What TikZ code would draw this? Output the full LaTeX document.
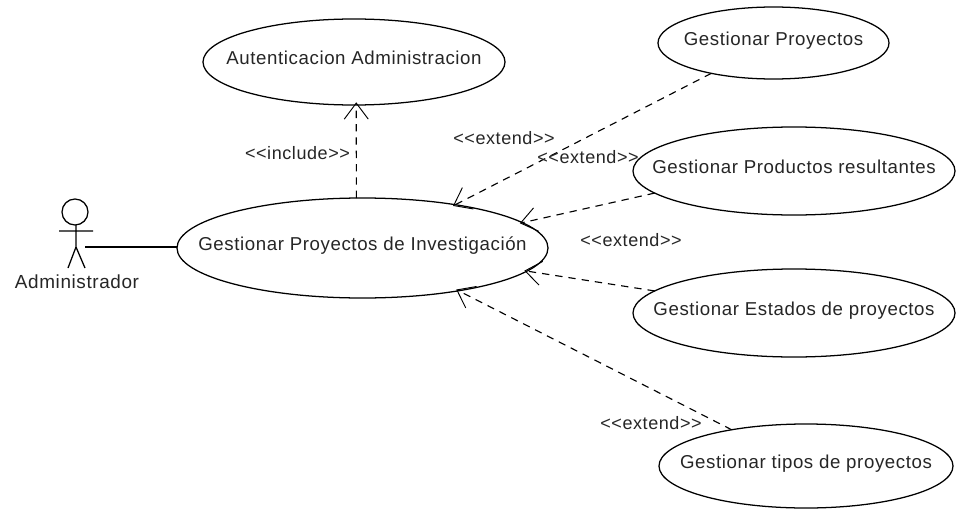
\documentclass[tikz,border=0pt]{standalone}
\usepackage{fontspec}
\newfontfamily\ucfont{Liberation Sans}[LetterSpace=3.2]
\usetikzlibrary{shapes.geometric,arrows.meta}
\newcommand{\uctext}[1]{\raisebox{-2pt}[0pt][0pt]{#1}}
\tikzset{
  uc/.style n args={2}{draw,ellipse,line width=.95pt,outer sep=0pt,inner xsep=-40pt,inner ysep=0pt,minimum width=#1*0.75pt,minimum height=#2*0.75pt,text=black!85,font=\ucfont\fontsize{14pt}{16pt}\selectfont},
  lbl/.style={font=\ucfont\fontsize{13.5pt}{15pt}\selectfont,inner sep=0pt,text=black!85},
  dep/.style={dash pattern=on 5.5pt off 4.5pt,line width=.85pt,shorten >=-2pt,-{Straight Barb[length=12pt,width=18pt,line width=.7pt]}},
  actor/.style={line width=.95pt},
}
\begin{document}
\begin{tikzpicture}[x=0.75pt,y=-0.75pt]
\useasboundingbox (0,0) rectangle (956,510);
\path[fill=white] (0,0) rectangle (956,510);
\node[uc={302}{86}] (auth) at (354,62) {\uctext{Autenticacion Administracion}};
\node[uc={371}{100}] (main) at (362.5,248) {\uctext{Gestionar Proyectos de Investigación}};
\node[uc={231}{72}] (gp) at (773.5,43) {\uctext{Gestionar Proyectos}};
\node[uc={322}{88}] (gpr) at (794,171) {\uctext{Gestionar Productos resultantes}};
\node[uc={322}{88}] (ge) at (794,313) {\uctext{Gestionar Estados de proyectos}};
\node[uc={294}{84}] (gt) at (806,466) {\uctext{Gestionar tipos de proyectos}};
\coordinate (head) at (75,212);
\draw[actor] (head) circle (13);
\coordinate (neck) at (76,225);
\coordinate (hip) at (76,247);
\coordinate (lf) at (68,268);
\coordinate (rf) at (85,268);
\coordinate (al) at (59,231);
\coordinate (ar) at (93,231);
\draw[actor] (neck) -- (hip) (hip) -- (lf) (hip) -- (rf) (al) -- (ar);
\node[font=\ucfont\fontsize{14.2pt}{16pt}\selectfont,inner sep=0pt,text=black!85] (adm) at (77,282) {Administrador};
\coordinate (actorr) at (85,247);
\draw[actor] (actorr) -- (actorr -| main.west);
\draw[dep] (main.97.4) -- (auth.-87.3);
\draw[dep] (gp.206) -- (main.25.7);
\draw[dep] (gpr.189.2) -- (main.9.9);
\draw[dep] (ge.171.2) -- (main.-8.3);
\draw[dep] (gt.154) -- (main.-24);
\node[lbl] (e1) at (504,138) {<<extend>>};
\node[lbl] (e2) at (588,157) {<<extend>>};
\node[lbl] (e3) at (631,240) {<<extend>>};
\node[lbl] (e4) at (651,423) {<<extend>>};
\node[lbl] (inc) at (297.5,153) {<<include>>};
\end{tikzpicture}
\end{document}
